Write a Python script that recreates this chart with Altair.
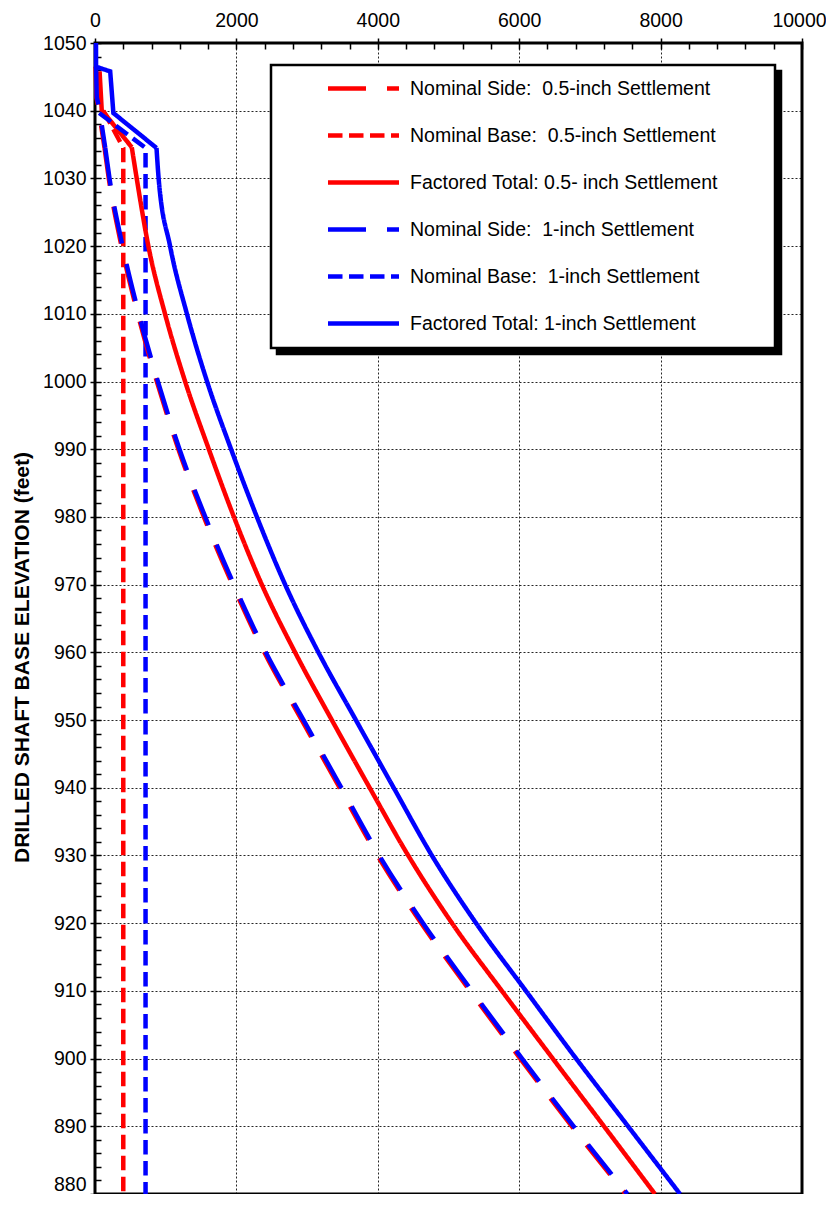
import altair as alt
import pandas as pd

LABELS = [
    "Nominal Side:\u00a0 0.5-inch Settlement",
    "Nominal Base:\u00a0 0.5-inch Settlement",
    "Factored Total: 0.5- inch Settlement",
    "Nominal Side:\u00a0 1-inch Settlement",
    "Nominal Base:\u00a0 1-inch Settlement",
    "Factored Total: 1-inch Settlement",
]
COLORS = ["#FF0000", "#FF0000", "#FF0000", "#0000FF", "#0000FF", "#0000FF"]
DASHES = [[38, 21], [14.5, 6.5], [1, 0], [38, 21], [14.5, 6.5], [1, 0]]

X_TICKS = [0, 2000, 4000, 6000, 8000, 10000]
Y_TICKS = list(range(880, 1051, 10))

ELEV_SIDE = [1046.5, 1042, 1040, 1034.5, 1030, 1020, 1010, 1000, 990, 980,
             970, 960, 950, 940, 930, 920, 910, 900, 890, 880]
SIDE_05 = [10, 20, 55, 135, 195, 375, 605, 875, 1180, 1540,
           1945, 2395, 2925, 3460, 3995, 4615, 5305, 6015, 6745, 7505]
SIDE_1 = [15, 25, 65, 145, 205, 390, 620, 890, 1195, 1560,
          1965, 2415, 2950, 3485, 4020, 4640, 5330, 6040, 6770, 7530]

ELEV_BASE_05 = [1040, 1034.5, 880]
BASE_05 = [120, 400, 400]
ELEV_BASE_1 = [1039.65, 1034.5, 880]
BASE_1 = [60, 715, 715]

ELEV_TOTAL_05 = [1045.8, 1040.1, 1034.6, 1030, 1020, 1010, 1000, 990, 980,
                 970, 960, 950, 940, 930, 920, 910, 900, 890, 880]
TOTAL_05 = [65, 95, 520, 590, 755, 990, 1275, 1610, 1965,
            2360, 2830, 3350, 3885, 4430, 5050, 5755, 6475, 7200, 7920]
ELEV_TOTAL_1 = [1050, 1046.5, 1045.8, 1039.65, 1034.5, 1030, 1020, 1010, 1000,
                990, 980, 970, 960, 950, 940, 930, 920, 910, 900, 890, 880]
TOTAL_1 = [14, 15, 215, 260, 870, 900, 1062, 1300, 1585,
           1925, 2290, 2690, 3160, 3690, 4225, 4765, 5390, 6095, 6805, 7540, 8275]

# (label, elevations, values, elevation of the last sharp corner; None = all straight)
SERIES = [
    (LABELS[0], ELEV_SIDE, SIDE_05, 1034.5),
    (LABELS[1], ELEV_BASE_05, BASE_05, None),
    (LABELS[2], ELEV_TOTAL_05, TOTAL_05, 1034.6),
    (LABELS[3], ELEV_SIDE, SIDE_1, 1034.5),
    (LABELS[4], ELEV_BASE_1, BASE_1, None),
    (LABELS[5], ELEV_TOTAL_1, TOTAL_1, 1034.5),
]

rows = []
for k, (name, elevs, vals, corner) in enumerate(SERIES):
    for i, (e, v) in enumerate(zip(elevs, vals)):
        base = {"series": name, "key": k, "elev": e, "value": v, "idx": i}
        if corner is None or e >= corner:
            rows.append(dict(base, part="straight"))
        if corner is not None and e <= corner:
            rows.append(dict(base, part="curve"))
df = pd.DataFrame(rows)

W, H = 707, 1151
FONT = "Liberation Sans"
SYMBOL_PATH = "M 1.675 0 L 5.225 0 M 23.51 0.71"

x_scale = alt.Scale(domain=[0, 10000], nice=False)
y_scale = alt.Scale(domain=[880, 1050], nice=False, zero=False)

leg = alt.Legend(
    title=None,
    orient="none",
    legendX=176,
    legendY=22,
    padding=1,
    rowPadding=1,
    symbolType=SYMBOL_PATH,
    symbolSize=1600,
    symbolStrokeWidth=4.5,
    labelOffset=93,
    labelFont=FONT,
    labelFontSize=19.5,
    labelColor="black",
    labelLimit=800,
    fillColor="white",
    strokeColor="black",
    zindex=2,
)

# black drop shadow behind the legend box (a second, label-less legend)
shadow_leg = alt.Legend(
    title=None,
    orient="none",
    legendX=182,
    legendY=28,
    padding=1,
    rowPadding=1,
    symbolType=SYMBOL_PATH,
    symbolSize=1600,
    symbolStrokeWidth=4.5,
    symbolStrokeColor="black",
    symbolOpacity=1,
    labelOffset=93,
    labelFont=FONT,
    labelFontSize=19.5,
    labelColor="black",
    labelExpr="''",
    fillColor="black",
    strokeColor="black",
    zindex=1,
)

x_enc = alt.X(
    "value:Q",
    scale=x_scale,
    axis=alt.Axis(
        orient="top", values=X_TICKS, format="d", title=None,
        grid=True, domain=False, ticks=True, tickSize=5,
        labelPadding=12, labelFlush=False, labelBaseline="alphabetic",
        labelOffset={"condition": {"test": "datum.value == 10000", "value": -3}, "value": 0},
    ),
)
y_enc = alt.Y(
    "elev:Q",
    scale=y_scale,
    axis=alt.Axis(
        orient="left", values=Y_TICKS, format="d",
        title="DRILLED SHAFT BASE ELEVATION (feet)",
        grid=True, domain=False, ticks=True, tickSize=5,
        labelPadding=4, labelFlush=False,
        labelOffset={"condition": {"test": "datum.value == 880", "value": -10}, "value": 0},
        titleFontSize=21, titleFontWeight="bold", titleFont=FONT,
        titleColor="black", titleX=-73, titleY=614,
        titleAlign="center", titleBaseline="middle", titleAngle=270,
    ),
)
color_enc = alt.Color("series:N", scale=alt.Scale(domain=LABELS, range=COLORS), legend=leg)
dash_enc = alt.StrokeDash("series:N", scale=alt.Scale(domain=LABELS, range=DASHES), legend=leg)

straight = alt.Chart(df).transform_filter(
    alt.datum.part == "straight"
).mark_line(strokeWidth=4.5).encode(
    x=x_enc, y=y_enc, color=color_enc, strokeDash=dash_enc, order=alt.Order("idx:Q"),
)

curve = alt.Chart(df).transform_filter(
    alt.datum.part == "curve"
).mark_line(strokeWidth=4.5, interpolate="monotone").encode(
    x=alt.X("value:Q", scale=x_scale, axis=None),
    y=alt.Y("elev:Q", scale=y_scale, axis=None),
    color=color_enc, strokeDash=dash_enc, order=alt.Order("idx:Q"),
)

minor = alt.Chart(df).mark_point(opacity=0).encode(
    x=alt.X(
        "value:Q",
        scale=x_scale,
        axis=alt.Axis(
            orient="bottom", offset=-H, values=list(range(0, 10001, 400)),
            labels=False, domain=False, grid=False, ticks=True, tickSize=6, title=None,
        ),
    ),
    y=alt.Y(
        "elev:Q",
        scale=y_scale,
        axis=alt.Axis(
            orient="right", offset=-W, values=list(range(880, 1051, 2)),
            labels=False, domain=False, grid=False, ticks=True, tickSize=6, title=None,
        ),
    ),
    stroke=alt.Stroke(
        "key:N",
        scale=alt.Scale(domain=[0, 1, 2, 3, 4, 5], range=["black"] * 6),
        legend=shadow_leg,
    ),
)

chart = (
    alt.layer(straight, curve, minor)
    .resolve_axis(x="independent", y="independent")
    .properties(
        width=W,
        height=H,
        autosize=alt.AutoSizeParams(type="none"),
        padding={"left": 87, "top": 35, "right": 24, "bottom": 0},
        background="white",
    )
    .configure_view(stroke="black", strokeWidth=3)
    .configure_axis(
        labelFont=FONT, labelFontSize=19.5, labelColor="black",
        tickColor="black", tickWidth=1.5,
        gridColor="black", gridDash=[2, 2], gridWidth=1, gridOpacity=0.85,
    )
    .configure_legend(strokeWidth=2.5)
)

chart.save("out.html", embed_options={"renderer": "svg", "actions": False})
